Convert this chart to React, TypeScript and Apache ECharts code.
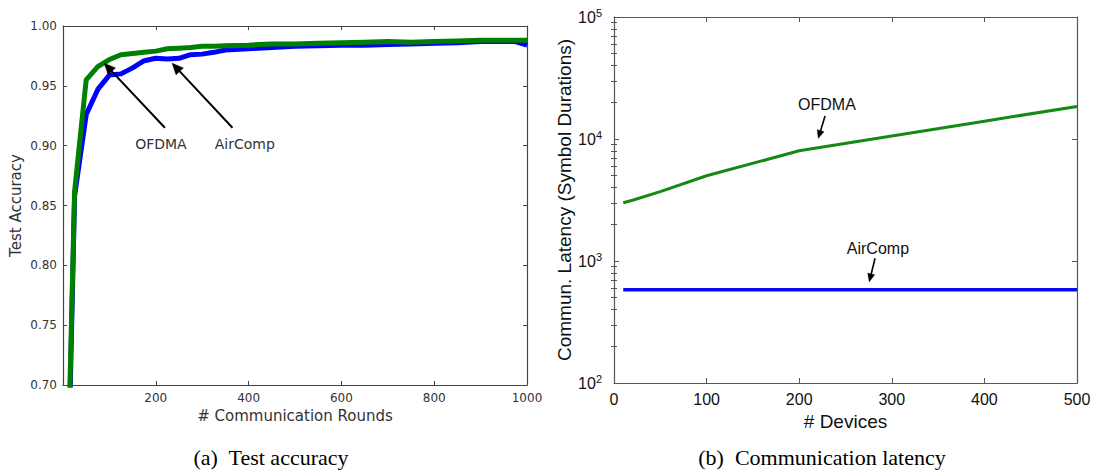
import React, { useEffect, useRef } from "react";
import * as echarts from "echarts";

// ---------- (a) Test accuracy ----------
const rounds = [10, 25, 50, 75, 100, 125, 150, 175, 200, 225, 250, 275, 300, 325, 350, 400, 450, 500, 550, 600, 650, 700, 750, 800, 850, 900, 950, 975, 1000];
const ofdmaAccuracy = [0.62, 0.862, 0.955, 0.966, 0.972, 0.976, 0.977, 0.978, 0.979, 0.981, 0.9815, 0.982, 0.983, 0.983, 0.9835, 0.984, 0.985, 0.985, 0.9855, 0.986, 0.9865, 0.987, 0.9865, 0.987, 0.9875, 0.988, 0.988, 0.988, 0.988];
const aircompAccuracy = [0.6, 0.858, 0.926, 0.947, 0.959, 0.96, 0.965, 0.971, 0.973, 0.9725, 0.973, 0.976, 0.9765, 0.978, 0.98, 0.981, 0.982, 0.983, 0.9835, 0.984, 0.984, 0.9845, 0.985, 0.9855, 0.986, 0.987, 0.987, 0.987, 0.984];
const roundsAxis = { min: 0, max: 1000, interval: 200 };
const accuracyAxis = { min: 0.7, max: 1.0, interval: 0.05 };

// ---------- (b) Communication latency ----------
const devices = [10, 20, 50, 100, 200, 300, 400, 500];
const ofdmaLatency = [3000, 3150, 3700, 5000, 8000, 10600, 14000, 18500];
const aircompLatency = [580, 580, 580, 580, 580, 580, 580, 580];
const devicesAxis = { min: 0, max: 500, interval: 100 };
const latencyAxis = { min: 100, max: 100000 };
const latencyMinorTicks = [200, 300, 400, 500, 600, 700, 800, 900, 2000, 3000, 4000, 5000, 6000, 7000, 8000, 9000, 20000, 30000, 40000, 50000, 60000, 70000, 80000, 90000];

// annotations (data coordinates)
const accuracyNotes = [
  { text: "OFDMA", at: [211, 0.9014], from: [219.6, 0.915], to: [88.9, 0.9688] },
  { text: "AirComp", at: [391.8, 0.9014], from: [365.3, 0.915], to: [235.3, 0.9688] },
];
const latencyNotes = [
  { text: "OFDMA", at: [230, 19000], from: [227.9, 15440], to: [220.6, 10130] },
  { text: "AirComp", at: [285, 1278], from: [281.9, 1052], to: [275.7, 676] },
];

const captions = ["(a)  Test accuracy", "(b)  Communication latency"];

const LF = '"DejaVu Sans", sans-serif';
const RF = '"Liberation Sans", Arial, sans-serif';
const SF = '"Liberation Serif", "Times New Roman", serif';

const zip = (xs: number[], ys: number[]) => xs.map((x, i) => [x, ys[i]]);

function arrow(t: number[], h: number[], len: number, half: number, lw: number) {
  const dx = h[0] - t[0];
  const dy = h[1] - t[1];
  const d = Math.sqrt(dx * dx + dy * dy) || 1;
  const ux = dx / d;
  const uy = dy / d;
  const bx = h[0] - ux * len;
  const by = h[1] - uy * len;
  const nx = -uy;
  const ny = ux;
  return [
    { type: "line", shape: { x1: t[0], y1: t[1], x2: bx + ux * 1, y2: by + uy * 1 }, style: { stroke: "#000", lineWidth: lw }, z: 100 },
    {
      type: "polygon",
      shape: { points: [[h[0], h[1]], [bx + nx * half, by + ny * half], [bx - nx * half, by - ny * half]] },
      style: { fill: "#000", stroke: "#000", lineWidth: 0.5 },
      z: 100,
    },
  ];
}

export default function App() {
  const ref = useRef<HTMLDivElement>(null);
  useEffect(() => {
    document.body.style.margin = "0";
    if (!ref.current) return;
    const chart = echarts.init(ref.current, undefined, { renderer: "svg" });

    const lAxisColor = "#444";
    const rAxisColor = "#555";
    const mirrorX = (gridIndex: number, cfg: any, color: string, len: number) => ({
      type: "value", gridIndex, position: "top", ...cfg,
      axisLine: { show: true, onZero: false, lineStyle: { color, width: 1.2 } },
      axisTick: { show: true, inside: true, length: len, lineStyle: { color } },
      axisLabel: { show: false }, splitLine: { show: false },
    });

    const option: any = {
      animation: false,
      backgroundColor: "#fff",
      grid: [
        { left: 63, top: 26, width: 464, height: 359, containLabel: false, outerBoundsMode: "none" },
        { left: 614, top: 17, width: 463, height: 366, containLabel: false, outerBoundsMode: "none" },
      ],
      xAxis: [
        {
          type: "value", gridIndex: 0, position: "bottom", ...roundsAxis,
          axisLine: { show: true, onZero: false, lineStyle: { color: lAxisColor, width: 1.2 } },
          axisTick: { show: true, inside: true, length: 4, lineStyle: { color: lAxisColor } },
          axisLabel: { showMinLabel: false, color: "#333", fontSize: 12, fontFamily: LF, margin: 7, formatter: (v: number) => String(v) },
          splitLine: { show: false },
          name: "# Communication Rounds", nameLocation: "middle", nameGap: 22,
          nameTextStyle: { fontSize: 15, color: "#333", fontFamily: LF },
        },
        mirrorX(0, roundsAxis, lAxisColor, 4),
        {
          type: "value", gridIndex: 1, position: "bottom", ...devicesAxis,
          axisLine: { show: true, onZero: false, lineStyle: { color: rAxisColor, width: 1.2 } },
          axisTick: { show: true, inside: true, length: 5, lineStyle: { color: rAxisColor } },
          axisLabel: { color: "#111", fontSize: 16, fontFamily: RF, margin: 8, formatter: (v: number) => String(v) },
          splitLine: { show: false },
          name: "# Devices", nameLocation: "middle", nameGap: 21,
          nameTextStyle: { fontSize: 19, color: "#111", fontFamily: RF },
        },
        mirrorX(1, devicesAxis, rAxisColor, 5),
      ],
      yAxis: [
        {
          type: "value", gridIndex: 0, position: "left", ...accuracyAxis,
          axisLine: { show: true, onZero: false, lineStyle: { color: lAxisColor, width: 1.2 } },
          axisTick: { show: true, inside: true, length: 4, lineStyle: { color: lAxisColor } },
          axisLabel: { color: "#333", fontSize: 12, fontFamily: LF, margin: 6, formatter: (v: number) => v.toFixed(2) },
          splitLine: { show: false },
          name: "Test Accuracy", nameLocation: "middle", nameGap: 40,
          nameTextStyle: { fontSize: 15, color: "#333", fontFamily: LF },
        },
        {
          type: "value", gridIndex: 0, position: "right", ...accuracyAxis,
          axisLine: { show: true, onZero: false, lineStyle: { color: lAxisColor, width: 1.2 } },
          axisTick: { show: true, inside: true, length: 4, lineStyle: { color: lAxisColor } },
          axisLabel: { show: false }, splitLine: { show: false },
        },
        {
          type: "log", logBase: 10, gridIndex: 1, position: "left", ...latencyAxis, splitNumber: 3,
          axisLine: { show: true, onZero: false, lineStyle: { color: rAxisColor, width: 1.2 } },
          axisTick: { show: true, inside: true, length: 5, lineStyle: { color: rAxisColor } },
          axisLabel: {
            margin: 12, color: "#111", fontFamily: RF,
            formatter: (v: number) => `{b|10}{s|${Math.round(Math.log10(v))}}`,
            rich: {
              b: { fontSize: 16, fontFamily: RF, color: "#111" },
              s: { fontSize: 11, fontFamily: RF, color: "#111", padding: [0, 0, 8, 0] },
            },
          },
          splitLine: { show: false },
          name: "Commun. Latency (Symbol Durations)", nameLocation: "middle", nameGap: 36,
          nameTextStyle: { fontSize: 19, color: "#111", fontFamily: RF },
        },
        {
          type: "log", logBase: 10, gridIndex: 1, position: "left", ...latencyAxis,
          axisLine: { show: false },
          axisTick: { show: true, inside: true, length: 3, customValues: latencyMinorTicks, lineStyle: { color: rAxisColor } },
          axisLabel: { show: false }, splitLine: { show: false },
        },
        {
          type: "log", logBase: 10, gridIndex: 1, position: "right", ...latencyAxis, splitNumber: 3,
          axisLine: { show: true, onZero: false, lineStyle: { color: rAxisColor, width: 1.2 } },
          axisTick: { show: true, inside: true, length: 5, lineStyle: { color: rAxisColor } },
          axisLabel: { show: false }, splitLine: { show: false },
        },
        {
          type: "log", logBase: 10, gridIndex: 1, position: "right", ...latencyAxis,
          axisLine: { show: false },
          axisTick: { show: true, inside: true, length: 3, customValues: latencyMinorTicks, lineStyle: { color: rAxisColor } },
          axisLabel: { show: false }, splitLine: { show: false },
        },
      ],
      series: [
        {
          name: "AirComp", type: "line", xAxisIndex: 0, yAxisIndex: 0, data: zip(rounds, aircompAccuracy),
          showSymbol: false, lineStyle: { color: "#0000ff", width: 5, join: "round" }, itemStyle: { color: "#0000ff" }, clip: true, z: 3,
        },
        {
          name: "OFDMA", type: "line", xAxisIndex: 0, yAxisIndex: 0, data: zip(rounds, ofdmaAccuracy),
          showSymbol: false, lineStyle: { color: "#008000", width: 5, join: "round" }, itemStyle: { color: "#008000" }, clip: true, z: 4,
        },
        {
          name: "OFDMA", type: "line", xAxisIndex: 2, yAxisIndex: 2, data: zip(devices, ofdmaLatency),
          showSymbol: false, lineStyle: { color: "#138a13", width: 3 }, itemStyle: { color: "#138a13" }, clip: true,
        },
        {
          name: "AirComp", type: "line", xAxisIndex: 2, yAxisIndex: 2, data: zip(devices, aircompLatency),
          showSymbol: false, lineStyle: { color: "#0a0af0", width: 3.5 }, itemStyle: { color: "#0a0af0" }, clip: true,
        },
      ],
    };
    chart.setOption(option);

    const g: any[] = [];
    const px = (fi: any, p: number[]) => chart.convertToPixel(fi, p) as number[];
    const leftFinder = { xAxisIndex: 0, yAxisIndex: 0 };
    const rightFinder = { xAxisIndex: 2, yAxisIndex: 2 };
    accuracyNotes.forEach((n) => {
      const a = px(leftFinder, n.at);
      g.push({ type: "text", x: a[0], y: a[1], z: 100, style: { text: n.text, fill: "#333", fontSize: 14, fontFamily: LF, align: "center", verticalAlign: "middle" } });
      g.push(...arrow(px(leftFinder, n.from), px(leftFinder, n.to), 11, 5, 2));
    });
    latencyNotes.forEach((n) => {
      const a = px(rightFinder, n.at);
      g.push({ type: "text", x: a[0], y: a[1], z: 100, style: { text: n.text, fill: "#111", fontSize: 16, fontFamily: RF, align: "center", verticalAlign: "middle" } });
      g.push(...arrow(px(rightFinder, n.from), px(rightFinder, n.to), 8, 3.5, 1.6));
    });
    g.push({ type: "text", x: 271, y: 457, style: { text: captions[0], fill: "#000", fontSize: 22, fontFamily: SF, align: "center", verticalAlign: "middle" } });
    g.push({ type: "text", x: 822, y: 457, style: { text: captions[1], fill: "#000", fontSize: 22, fontFamily: SF, align: "center", verticalAlign: "middle" } });
    chart.setOption({ graphic: g });

    return () => chart.dispose();
  }, []);
  return <div ref={ref} style={{ width: 1094, height: 470 }} />;
}
